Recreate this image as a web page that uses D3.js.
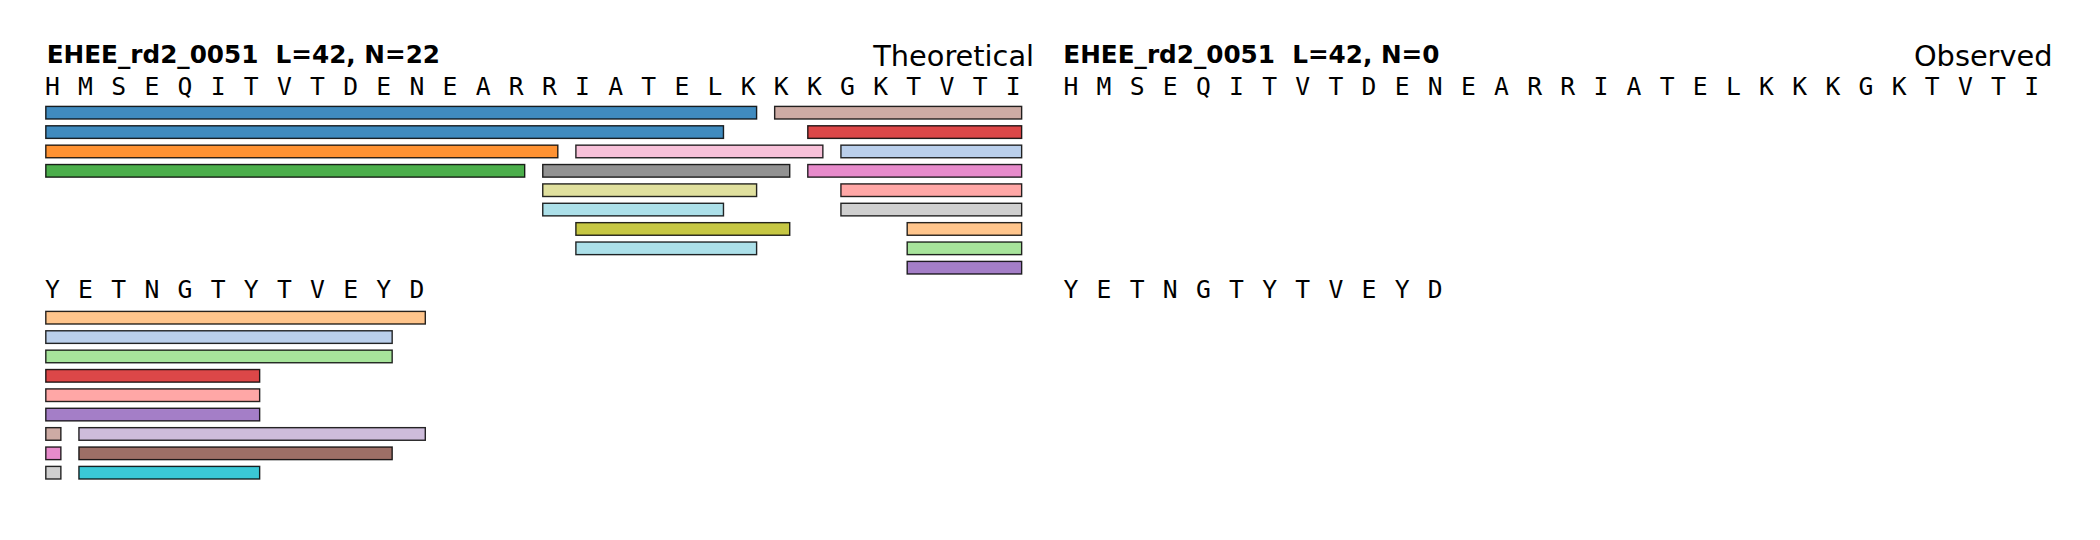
<!DOCTYPE html>
<html>
<head>
<meta charset="utf-8">
<script src="https://cdn.jsdelivr.net/npm/d3@7"></script>
<style>
  html, body { margin: 0; padding: 0; background: #ffffff; }
  svg { display: block; }
  text { white-space: pre; }
</style>
</head>
<body>
<svg id="chart" width="2100" height="540"></svg>
<script>
// ---------------- data ----------------
const sequence = "HMSEQITVTDENEARRIATELKKKGKTVTIYETNGTYTVEYD";
const residuesPerLine = 30;
const panelTitles = ["EHEE_rd2_0051  L=42, N=22", "EHEE_rd2_0051  L=42, N=0"];
const panelLabels = ["Theoretical", "Observed"];

// peptides (global residue index, inclusive)
const pepStart = [0, 22, 0, 23, 0, 16, 24, 0, 15, 23, 15, 24, 15, 24, 16, 26, 16, 26, 26, 31, 31, 31];
const pepEnd   = [21, 30, 20, 36, 15, 23, 40, 14, 22, 30, 21, 36, 20, 30, 22, 41, 21, 40, 36, 41, 40, 36];
const pepColor = ["#1f77b4", "#c49c94", "#1f77b4", "#d62728", "#ff7f0e", "#f7b6d2", "#aec7e8",
                  "#2ca02c", "#7f7f7f", "#e377c2", "#dbdb8d", "#ff9896", "#9edae5", "#c7c7c7",
                  "#bcbd22", "#ffbb78", "#9edae5", "#98df8a", "#9467bd", "#c5b0d5", "#8c564b", "#17becf"];
// row of each peptide inside line 1 and line 2 (null = not present in that line)
const pepRowLine1 = [0, 0, 1, 1, 2, 2, 2, 3, 3, 3, 4, 4, 5, 5, 6, 6, 7, 7, 8, null, null, null];
const pepRowLine2 = [null, 6, null, 3, null, null, 1, null, null, 7, null, 4, null, 8, null, 0, null, 2, 5, 6, 7, 8];
// which panels show peptide bars
const panelShowsBars = [true, false];

// ---------------- layout ----------------
const svg = d3.select("#chart");
svg.append("rect").attr("width", 2100).attr("height", 540).attr("fill", "#ffffff");

const panelX0 = [45.8, 1064.2];
const titleX = [46.7, 1063.3];
const residueW = 33.13;
const rowH = 19.375;
const lineLetterBaseline = [95, 298.3];
const lineBarTop = [106, 311];
const barEndFrac = 0.455;
const barH = 12.6;

const lines = [];
for (let s = 0; s < sequence.length; s += residuesPerLine) {
  lines.push({ start: s, end: Math.min(s + residuesPerLine, sequence.length) - 1 });
}
const lineRows = [pepRowLine1, pepRowLine2];

panelX0.forEach((x0, p) => {
  const x = d3.scaleLinear().domain([0, residuesPerLine]).range([x0, x0 + residuesPerLine * residueW]);
  const g = svg.append("g");

  // title
  g.append("text")
    .attr("x", titleX[p])
    .attr("y", 63.3)
    .attr("font-family", "DejaVu Sans")
    .attr("font-weight", "bold")
    .attr("font-size", 24.7)
    .attr("fill", "#000")
    .text(panelTitles[p]);

  g.append("text")
    .attr("x", x0 + 988.3)
    .attr("y", 66)
    .attr("text-anchor", "end")
    .attr("font-family", "DejaVu Sans")
    .attr("font-size", 28.8)
    .attr("fill", "#000")
    .text(panelLabels[p]);

  lines.forEach((ln, li) => {
    const letters = sequence.slice(ln.start, ln.end + 1).split("");
    const yRow = d3.scaleLinear().domain([0, 1]).range([lineBarTop[li], lineBarTop[li] + rowH]);

    g.append("g").selectAll("text")
      .data(letters)
      .join("text")
      .attr("x", (d, i) => x(i + 0.2))
      .attr("y", lineLetterBaseline[li])
      .attr("text-anchor", "middle")
      .attr("font-family", "DejaVu Sans Mono")
      .attr("font-size", 24.7)
      .attr("fill", "#000")
      .text(d => d);

    if (!panelShowsBars[p]) return;

    const segs = [];
    pepStart.forEach((s, k) => {
      const e = pepEnd[k];
      const row = lineRows[li][k];
      if (row === null || row === undefined) return;
      const a = Math.max(s, ln.start), b = Math.min(e, ln.end);
      if (a > b) return;
      segs.push({ a: a - ln.start, b: b - ln.start, row, color: pepColor[k] });
    });

    g.append("g").selectAll("rect")
      .data(segs)
      .join("rect")
      .attr("x", d => x(d.a))
      .attr("y", d => yRow(d.row) + 0.4)
      .attr("width", d => x(d.b + barEndFrac) - x(d.a))
      .attr("height", barH)
      .attr("fill", d => d.color)
      .attr("fill-opacity", 0.85)
      .attr("stroke", "#000")
      .attr("stroke-opacity", 0.85)
      .attr("stroke-width", 1.4);
  });
});
</script>
</body>
</html>
